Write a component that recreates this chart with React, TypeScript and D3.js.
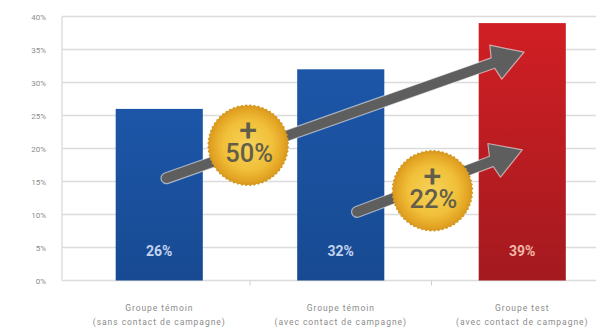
import React from "react";
import * as d3 from "d3";

const categories = ["Groupe témoin|(sans contact de campagne)", "Groupe témoin|(avec contact de campagne)", "Groupe test|(avec contact de campagne)"];
const values = [26, 32, 39];
const tickValues = [0, 5, 10, 15, 20, 25, 30, 35, 40];
const barTones = [["#1d56a8", "#174a92"], ["#1d56a8", "#174a92"], ["#d01f24", "#a41a1f"]];
// Overlays are placed in data units: position along the categories, and percent.
const arrowStarts = [[0.04, 15.5], [1.09, 10.4]];
const arrowTips = [[2.01, 34.6], [2.0, 19.8]];
const badgeCentres = [[0.49, 20.5], [1.505, 13.6]];
const badgeLabels = ["50%", "22%"];

const WIDTH = 596;
const HEIGHT = 329;
const FONT = "Roboto, 'Open Sans', sans-serif";

const x = d3.scaleBand<string>().domain(categories).range([68.5, 613]).paddingInner(0.52).paddingOuter(0.26);
const y = d3.scaleLinear().domain([0, 40]).range([280.5, 16.5]);
const pos = d3.scaleLinear()
  .domain([0, 2])
  .range([x(categories[0])! + x.bandwidth() / 2, x(categories[2])! + x.bandwidth() / 2]);

// Block arrow outline with a triangular head, built along the segment a -> b.
function arrowPath(a: number[], b: number[]) {
  const [x0, y0, x1, y1] = [pos(a[0]), y(a[1]), pos(b[0]), y(b[1])];
  const len = Math.hypot(x1 - x0, y1 - y0);
  const ux = (x1 - x0) / len, uy = (y1 - y0) / len;
  const nx = -uy, ny = ux;
  const p = (along: number, side: number) => [x0 + ux * along + nx * side, y0 + uy * along + ny * side];
  const shaft = 5.5, head = 30, barb = 18, neck = 33;
  const pts = [
    p(0, -shaft), p(len - neck, -shaft), p(len - head, -barb), p(len, 0),
    p(len - head, barb), p(len - neck, shaft), p(0, shaft),
  ];
  const cap = `A${shaft} ${shaft} 0 0 1 ${p(0, -shaft).join(" ")}`;
  return d3.line()(pts as [number, number][]) + cap + "Z";
}

// Serrated gold seal edge.
const SEAL_POINTS = 120;
const sealEdge = (r: number) =>
  d3.lineRadial<number>()
    .angle((i) => (i / SEAL_POINTS) * 2 * Math.PI)
    .radius((i) => (i % 2 ? r : r - 1.5))
    .curve(d3.curveLinearClosed)(d3.range(SEAL_POINTS))!;

export default function App() {
  return (
    <svg
      width={WIDTH}
      height={HEIGHT}
      viewBox={`0 0 ${WIDTH} ${HEIGHT}`}
      style={{ position: "fixed", left: 0, top: 0, background: "#fff", fontFamily: FONT }}
    >
      <defs>
        {barTones.map((t, i) => (
          <linearGradient key={i} id={`bar${i}`} x1="0" y1="0" x2="0" y2="1">
            <stop offset="0" stopColor={t[0]} />
            <stop offset="1" stopColor={t[1]} />
          </linearGradient>
        ))}
        <radialGradient id="gold" cx="0.5" cy="0.5" r="0.5">
          <stop offset="0" stopColor="#f6d25a" />
          <stop offset="0.6" stopColor="#f1c03a" />
          <stop offset="0.88" stopColor="#e3a423" />
          <stop offset="1" stopColor="#d2951f" />
        </radialGradient>
      </defs>

      {tickValues.map((t) => (
        <g key={t}>
          <line x1={62} x2={WIDTH} y1={y(t)} y2={y(t)} stroke="#dcdcdc" strokeWidth={1.4} />
          <text x={46} y={y(t) + 3} textAnchor="end" fontSize={8} fill="#8c8c8c">{t}%</text>
        </g>
      ))}
      <line x1={62} x2={62} y1={y(40)} y2={y(0)} stroke="#dcdcdc" strokeWidth={1.4} />
      {categories.slice(1).map((c) => (
        <line key={c} x1={x(c)! - (x.step() - x.bandwidth()) / 2} x2={x(c)! - (x.step() - x.bandwidth()) / 2} y1={y(0)} y2={y(0) + 5} stroke="#d0d0d0" />
      ))}

      {categories.map((c, i) => (
        <g key={c}>
          <rect x={x(c)} y={y(values[i])} width={x.bandwidth()} height={y(0) - y(values[i])} fill={`url(#bar${i})`} />
          <text x={x(c)! + x.bandwidth() / 2} y={256} textAnchor="middle" fontSize={14} fontWeight={700} fill={i === 2 ? "#f2b7a8" : "#c3d3ee"}>
            {values[i]}%
          </text>
          {c.split("|").map((line, k) => (
            <text key={k} x={x(c)! + x.bandwidth() / 2} y={311 + k * 13.5} textAnchor="middle" fontSize={8.5} letterSpacing={0.95} fill="#8c8c8c">
              {line}
            </text>
          ))}
        </g>
      ))}

      {arrowStarts.map((s, i) => (
        <path key={i} d={arrowPath(s, arrowTips[i])} fill="#5e5e5e" stroke="#ffffff" strokeOpacity={0.55} strokeWidth={1.2} strokeLinejoin="round" />
      ))}

      {badgeCentres.map((c, i) => (
        <g key={i} transform={`translate(${pos(c[0])},${y(c[1])})`}>
          <path d={sealEdge(41)} fill="url(#gold)" />
          <text textAnchor="middle" fill="#625e49">
            <tspan x={0} y={-4} fontSize={32} fontWeight={500}>+</tspan>
            <tspan x={1} y={17} fontSize={25.5} fontWeight={500}>{badgeLabels[i]}</tspan>
          </text>
        </g>
      ))}
    </svg>
  );
}
